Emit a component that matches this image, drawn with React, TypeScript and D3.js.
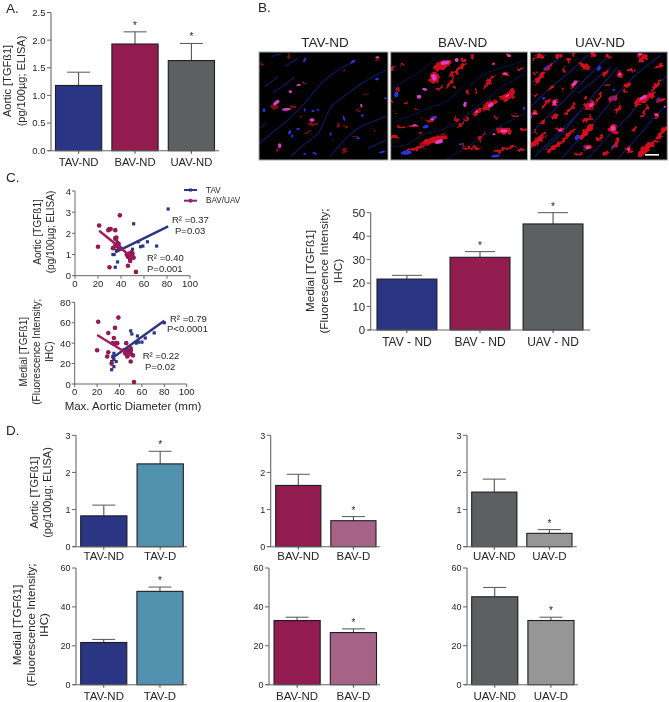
import React from "react";
import * as d3 from "d3";

const FONT = "'Liberation Sans', Arial, sans-serif";
const NAVY = "#2b3583", WINE = "#921a50", GREY = "#5d6060", TEAL = "#5292ae", LWINE = "#a66386", LGREY = "#969696";
const LEGEND_WINE = "#9a1f78", FIT_WINE = "#a01a5e";

// Panel A
const aCats = ["TAV-ND", "BAV-ND", "UAV-ND"];
const aVals = [1.18, 1.93, 1.63];
const aErr = [1.42, 2.15, 1.94];
const aTicks = [0, 0.5, 1, 1.5, 2, 2.5];
// Panel B (right bars)
const mCats = ["TAV - ND", "BAV - ND", "UAV - ND"];
const mVals = [21.7, 31, 45.2];
const mErr = [23.3, 33.4, 50];
const mTicks = [0, 10, 20, 30, 40, 50];
// Panel D
const dTavCats = ["TAV-ND", "TAV-D"];
const dBavCats = ["BAV-ND", "BAV-D"];
const dUavCats = ["UAV-ND", "UAV-D"];
const dAorticTicks = [0, 1, 2, 3];
const dMedialTicks = [0, 20, 40, 60];
const tavAortic = [0.83, 2.23], tavAorticErr = [1.12, 2.57];
const bavAortic = [1.65, 0.7], bavAorticErr = [1.95, 0.81];
const uavAortic = [1.47, 0.36], uavAorticErr = [1.82, 0.46];
const tavMedial = [21.7, 48], tavMedialErr = [23.3, 50.2];
const bavMedial = [33, 26.8], bavMedialErr = [34.7, 28.7];
const uavMedial = [45.2, 33], uavMedialErr = [50, 34.7];

// Panel C scatter data
const c1Tav = [[81,3.15],[51,2.45],[36,1.7],[35,1.8],[37,1.5],[35,0.4],[37,0.65],[33,1],[34,1],[50,1.25],[55,1.6],[57,1.37],[59,1.4],[63,1.6],[71,1.4],[48,1],[40,1.3],[36,1.2]];
const c1Bav = [[20,1.37],[21,2.37],[29,2.15],[30,2.2],[31,2.2],[35,2.15],[39,2.85],[30,0.4],[46,0.47],[53,0.18],[33,1.3],[35,1.75],[36,1.8],[37,1.55],[38,1.5],[35,1.4],[39,1.3],[45,1],[46,0.9],[47,0.95],[48,0.7],[49,1.1],[50,0.9],[50,1.05],[51,0.85],[47,1.05],[48,0.8],[38,1.35]];
const c1TavFit = [[35,1.1],[81,2.33]];
const c1BavFit = [[21,2.12],[50,0.85]];
const c2Tav = [[80,60],[50,52],[51,49],[56,47],[60,41],[63,45],[71,50],[57,41],[55,40],[35,30],[34,27],[33,14],[35,17],[37,22],[35,24],[33,22]];
const c2Bav = [[21,61],[39,65],[36,55],[30,50],[35,45],[37,40],[34,40],[20,33],[30,31],[29,27],[33,20],[46,40],[50,22],[53,2],[47,27],[45,30],[47,33],[48,30],[50,33],[50,35],[52,28],[44,33],[47,28],[50,30],[38,40]];
const c2TavFit = [[33,25],[80,62]];
const c2BavFit = [[20,48],[50,28]];
const cXTicks = [0, 20, 40, 60, 80, 100];
const c1YTicks = [0, 1, 2, 3, 4];
const c2YTicks = [0, 20, 40, 60, 80];

// Micrographs: blobs [x, y, rx, ry, rotation] and fibres
type B = number[];
const tavFibres = [[[5,280],[40,250],[90,210],[140,160],[190,100],[240,60],[290,35]],[[100,320],[130,290],[180,250],[220,170],[270,130],[320,95],[385,60]],[[45,128],[80,105],[110,80]],[[215,320],[260,270],[300,235],[385,200]],[[20,110],[60,80]],[[80,50],[120,25]],[[5,235],[25,220]],[[330,295],[385,270]],[[40,20],[70,10]]];
const tavRed: B[] = [[92,20,5,9,0],[258,58,5,4,0],[140,100,6,3,0],[105,170,10,5,-35],[50,170,14,6,0],[10,40,4,6,0],[165,222,18,4,0],[240,225,6,5,0],[265,232,5,4,0],[300,180,6,3,0],[325,130,8,3,0],[360,30,10,5,0],[130,200,5,3,0],[225,270,3,5,0],[258,300,6,6,0],[60,300,6,5,0],[150,245,12,3,-20],[350,240,6,2,0],[290,260,10,3,0]];
const tavMag: B[] = [[55,158,11,5,-35],[85,178,13,4,-5],[122,105,7,3,-5],[97,125,5,4,0],[162,210,8,5,0],[65,287,5,7,0],[310,167,3,6,-20],[358,22,6,3,0]];
const tavBlue: B[] = [[140,30,3,8,30],[18,181,4,6,0],[285,35,8,4,-30],[357,87,6,4,0],[382,145,4,3,0],[140,180,3,5,0],[165,183,5,3,0],[180,180,3,4,0],[95,247,4,7,20],[103,258,3,5,0],[258,205,3,8,-20],[313,197,4,4,0],[218,252,3,5,0],[140,312,4,3,0],[170,310,7,3,20],[372,306,10,3,-15],[300,265,6,3,0],[120,237,6,3,-10]];
const bavFibres = [[[5,290],[50,285],[100,255],[180,230],[240,190],[290,150],[340,110],[410,70]],[[170,330],[220,300],[280,260],[340,225],[410,190]],[[10,115],[50,90],[100,60],[140,20]],[[240,110],[290,70],[350,50],[410,30]],[[20,215],[70,195],[130,170],[180,150],[220,110]]];
const bavRed: B[] = [[160,45,30,12,-20],[135,85,14,20,10],[205,60,30,7,-40],[185,95,22,3,-60],[150,115,10,4,0],[195,110,6,4,0],[250,20,5,7,0],[225,30,8,4,0],[360,18,8,6,0],[315,42,6,4,0],[300,95,25,5,-50],[350,72,12,6,0],[395,57,10,4,0],[355,140,22,10,-20],[370,125,8,8,0],[300,165,25,10,-35],[265,185,15,6,-35],[225,215,30,4,-45],[130,208,18,6,-30],[75,227,15,6,0],[45,232,20,3,0],[135,270,45,9,-15],[80,295,35,6,-12],[250,295,28,4,5],[345,243,25,8,0],[405,237,10,5,0],[375,195,12,3,0],[275,265,8,4,-50],[285,250,8,3,-50],[18,260,8,7,10],[12,55,3,10,0],[40,45,5,4,0],[235,125,5,8,0],[50,160,6,3,0],[25,120,8,3,0],[80,180,6,3,0],[100,205,6,3,0],[355,295,30,4,-15],[325,305,12,3,0],[320,200,5,3,0],[200,208,6,6,0],[95,250,6,4,0],[260,125,5,5,0],[15,185,3,3,0],[10,150,3,3,0],[225,285,6,3,0],[395,300,10,3,0]];
const bavMag: B[] = [[168,38,13,6,-12],[203,30,6,6,0],[135,82,7,10,-15],[107,118,8,4,10],[90,140,7,6,0],[228,163,5,8,15],[305,165,9,6,-30],[263,185,4,4,0],[345,243,11,5,0],[348,72,6,4,0],[360,17,6,4,0],[313,42,4,3,0],[150,275,12,6,-15],[77,226,7,3,0],[315,253,5,3,0],[355,137,7,3,-30],[130,208,7,3,0]];
const bavBlue: B[] = [[22,133,6,9,10],[110,230,9,5,-15],[135,203,9,4,-25],[52,308,17,6,-5],[320,318,13,4,-5],[405,175,3,6,0],[215,283,6,3,0]];
const uavFibres = [[[10,100],[50,60],[100,20]],[[10,170],[60,120],[120,70],[180,15]],[[10,250],[70,190],[130,130],[190,70],[240,20]],[[20,320],[90,250],[150,190],[210,120],[270,50]],[[100,325],[160,260],[220,190],[270,130],[340,60],[400,15]],[[180,325],[240,260],[300,200],[360,130],[415,80]],[[270,325],[330,260],[380,200],[415,165]],[[50,300],[110,240],[160,180]],[[150,130],[200,90],[250,50]]];
const uavRed: B[] = [[35,18,15,6,-10],[90,20,12,5,-30],[140,15,5,4,0],[20,68,5,4,0],[35,85,25,6,-50],[62,52,16,5,-40],[122,30,10,5,40],[170,48,18,7,20],[197,15,8,6,0],[240,20,8,6,0],[232,68,14,6,-50],[140,100,16,6,-45],[110,60,6,5,0],[70,115,10,4,-30],[25,135,10,4,-30],[55,160,20,5,-50],[80,158,6,10,10],[105,115,5,4,0],[115,190,6,5,0],[130,175,20,4,-50],[170,145,5,4,0],[185,165,20,12,-35],[215,140,20,4,-50],[178,208,14,5,-35],[255,145,16,7,-30],[275,75,10,8,20],[310,60,9,6,-30],[345,25,18,6,-40],[335,15,8,5,0],[395,48,16,5,-15],[350,145,38,9,-30],[385,105,22,6,-50],[300,105,14,4,-50],[270,180,16,3,-60],[350,185,22,4,-55],[400,150,14,5,-30],[385,195,8,7,0],[20,190,10,6,0],[45,218,8,5,0],[80,200,12,4,-40],[95,240,12,5,0],[30,270,32,9,-45],[80,290,25,6,-40],[120,255,30,5,-50],[175,245,30,8,-50],[215,265,12,4,-50],[255,238,13,14,0],[265,280,20,5,-50],[302,298,8,8,0],[180,292,14,7,-10],[150,312,15,4,-10],[230,310,10,5,-40],[355,295,40,8,-40],[400,250,25,5,-50],[320,235,10,4,-50],[385,275,8,4,0],[20,245,6,4,0],[240,105,8,3,0],[195,20,6,4,0],[290,125,5,4,0],[410,235,4,6,0],[15,30,4,4,0]];
const uavMag: B[] = [[140,100,5,10,40],[80,158,5,8,10],[275,73,4,5,0],[335,13,7,3,0],[345,143,12,5,-30],[385,195,6,4,0],[255,235,7,8,0],[97,241,7,3,0],[180,292,7,4,-10],[190,165,8,5,-30],[20,190,6,3,0],[410,170,3,3,0],[302,298,4,4,0]];
const uavBlue: B[] = [[55,52,10,3,-30],[213,55,5,8,30],[47,145,5,4,0],[147,262,6,9,30],[257,120,5,3,0],[255,143,5,6,-20],[390,147,7,3,-30],[10,200,3,6,0],[255,290,6,3,-40],[170,292,4,3,0]];
const panelTitles = ["TAV-ND", "BAV-ND", "UAV-ND"];

const Txt = (p: any) => <text fontFamily={FONT} fill="#262626" {...p}>{p.children}</text>;

function VLabel({ x, y, size, lines }: { x: number[]; y: number; size: number; lines: string[] }) {
  return <>{lines.map((l, i) => (
    <Txt key={i} transform={`translate(${x[i]},${y}) rotate(-90)`} textAnchor="middle" fontSize={size}>{l}</Txt>
  ))}</>;
}

function BarChart(p: {
  axisX: number; barsX0: number; barsX1: number; axisEnd: number; y0: number; y1: number; max: number;
  ticks: number[]; cats: string[]; vals: number[]; errs: number[]; colors: string[]; stars: boolean[];
  tickSize: number; catSize: number; catY: number; fmt?: (v: number) => string; capW: number;
}) {
  const x = d3.scaleBand<string>().domain(p.cats).range([p.barsX0, p.barsX1]).paddingInner(0.18).paddingOuter(0);
  const y = d3.scaleLinear().domain([0, p.max]).range([p.y0, p.y1]);
  const fmt = p.fmt || ((v: number) => String(v));
  const bw = x.bandwidth();
  return (
    <g>
      {p.cats.map((c, i) => {
        const cx = x(c)! + bw / 2;
        return (
          <g key={c}>
            <line x1={cx} x2={cx} y1={y(p.vals[i])} y2={y(p.errs[i])} stroke="#444" strokeWidth={1} />
            <line x1={cx - p.capW} x2={cx + p.capW} y1={y(p.errs[i])} y2={y(p.errs[i])} stroke="#555" strokeWidth={1} />
            <rect x={x(c)} y={y(p.vals[i])} width={bw} height={p.y0 - y(p.vals[i])} fill={p.colors[i]} stroke="#1c1c24" strokeWidth={1.1} />
            <line x1={cx} x2={cx} y1={p.y0} y2={p.y0 + 3} stroke="#444" />
            <Txt x={cx} y={p.catY} textAnchor="middle" fontSize={p.catSize}>{c}</Txt>
            {p.stars[i] && <Txt x={cx} y={y(p.errs[i]) - 3} textAnchor="middle" fontSize={10}>*</Txt>}
          </g>
        );
      })}
      <line x1={p.axisX} x2={p.axisX} y1={p.y1} y2={p.y0} stroke="#666" strokeWidth={1.1} />
      <line x1={p.axisX - 3} x2={p.axisEnd} y1={p.y0} y2={p.y0} stroke="#666" strokeWidth={1.1} />
      {p.ticks.map(t => (
        <g key={t}>
          <line x1={p.axisX - 4} x2={p.axisX} y1={y(t)} y2={y(t)} stroke="#666" />
          <Txt x={p.axisX - 5.5} y={y(t) + p.tickSize * 0.36} textAnchor="end" fontSize={p.tickSize}>{fmt(t)}</Txt>
        </g>
      ))}
    </g>
  );
}

function Scatter(p: {
  x0: number; x1: number; y0: number; y1: number; yMax: number; yTicks: number[];
  tav: number[][]; bav: number[][]; tavFit: number[][]; bavFit: number[][];
}) {
  const x = d3.scaleLinear().domain([0, 100]).range([p.x0, p.x1]);
  const y = d3.scaleLinear().domain([0, p.yMax]).range([p.y0, p.y1]);
  const ln = d3.line<number[]>().x(d => x(d[0])).y(d => y(d[1]));
  return (
    <g>
      <line x1={p.x0} x2={p.x0} y1={p.y1} y2={p.y0} stroke="#666" />
      <line x1={p.x0} x2={p.x1} y1={p.y0} y2={p.y0} stroke="#666" />
      {p.yTicks.map(t => (
        <g key={t}>
          <line x1={p.x0 - 3} x2={p.x0} y1={y(t)} y2={y(t)} stroke="#666" />
          <Txt x={p.x0 - 4} y={y(t) + 3.5} textAnchor="end" fontSize={9.5}>{t}</Txt>
        </g>
      ))}
      {cXTicks.map(t => (
        <g key={t}>
          <line x1={x(t)} x2={x(t)} y1={p.y0} y2={p.y0 + 3} stroke="#666" />
          <Txt x={x(t)} y={p.y0 + 11} textAnchor="middle" fontSize={9.5}>{t}</Txt>
        </g>
      ))}
      {p.tav.map((d, i) => <rect key={i} x={x(d[0]) - 1.6} y={y(d[1]) - 1.6} width={3.2} height={3.2} fill={NAVY} />)}
      {p.bav.map((d, i) => <circle key={i} cx={x(d[0])} cy={y(d[1])} r={2.3} fill={WINE} />)}
      <path d={ln(p.tavFit)!} stroke={NAVY} strokeWidth={2.4} fill="none" />
      <path d={ln(p.bavFit)!} stroke={FIT_WINE} strokeWidth={2.4} fill="none" />
    </g>
  );
}

function Micro(p: { id: string; x0: number; x1: number; cropX: number; fibres: number[][][]; red: B[]; mag: B[]; blue: B[]; fibreOp: number; redOp: number }) {
  const y0 = 52, y1 = 160, cropY = 50;
  const sx = d3.scaleLinear().domain([0, 3]).range([p.cropX, p.cropX + 1]);
  const sy = d3.scaleLinear().domain([0, 3]).range([cropY, cropY + 1]);
  const ln = d3.line<number[]>().x(d => sx(d[0])).y(d => sy(d[1])).curve(d3.curveCatmullRom);
  const blob = (b: B, i: number, fill: string) => (
    <ellipse key={i} cx={0} cy={0} rx={b[2] / 3} ry={b[3] / 3} fill={fill}
      transform={`translate(${sx(b[0])},${sy(b[1])}) rotate(${b[4]})`} />
  );
  return (
    <g>
      <clipPath id={p.id}><rect x={p.x0} y={y0} width={p.x1 - p.x0} height={y1 - y0} /></clipPath>
      <rect x={p.x0} y={y0} width={p.x1 - p.x0} height={y1 - y0} fill="#000" />
      <g clipPath={`url(#${p.id})`}>
        <g filter="url(#soft)" opacity={p.fibreOp}>
          {p.fibres.map((f, i) => <path key={i} d={ln(f)!} fill="none" stroke="#14207a" strokeWidth={1.3} />)}
        </g>
        <g filter="url(#rough)" opacity={p.redOp}>
          {p.red.map((b, i) => blob(b, i, "#d8101a"))}
        </g>
        <g filter="url(#soft)">
          {p.blue.map((b, i) => blob(b, i, "#2a32e6"))}
          {p.mag.map((b, i) => blob(b, i, "#dd40c8"))}
        </g>
      </g>
      <rect x={p.x0} y={y0} width={p.x1 - p.x0} height={y1 - y0} fill="none" stroke="#a8a8a8" strokeWidth={1} />
    </g>
  );
}

const aorticLines = ["Aortic [TGFß1]", "(pg/100µg; ELISA)"];
const medialLines = ["Medial [TGFß1]", "(Fluorescence Intensity;", "IHC)"];

export default function App() {
  return (
    <svg width={669} height={702} viewBox="0 0 669 702" style={{ position: "absolute", left: 0, top: 0, background: "#fff" }}>
      <defs>
        <filter id="soft" x="-5%" y="-5%" width="110%" height="110%"><feGaussianBlur stdDeviation="0.7" /></filter>
        <filter id="rough" x="-5%" y="-5%" width="110%" height="110%">
          <feTurbulence type="fractalNoise" baseFrequency="0.22" numOctaves="2" seed="4" result="n" />
          <feDisplacementMap in="SourceGraphic" in2="n" scale="7" xChannelSelector="R" yChannelSelector="G" />
          <feGaussianBlur stdDeviation="0.7" />
        </filter>
        <filter id="page"><feGaussianBlur stdDeviation="0.25" /></filter>
      </defs>
      <g filter="url(#page)">
      <Txt x={6} y={13} fontSize={13.5}>A.</Txt>
      <Txt x={258} y={12} fontSize={13.5}>B.</Txt>
      <Txt x={6} y={182} fontSize={13.5}>C.</Txt>
      <Txt x={6} y={435} fontSize={13.5}>D.</Txt>

      <VLabel x={[11, 25]} y={81} size={11} lines={aorticLines} />
      <BarChart axisX={51} barsX0={55.5} barsX1={214.5} axisEnd={219} y0={150.7} y1={12.5} max={2.5} ticks={aTicks} cats={aCats} vals={aVals} errs={aErr}
        colors={[NAVY, WINE, GREY]} stars={[false, true, true]} tickSize={9.5} catSize={11.3} catY={166} fmt={v => v.toFixed(1)} capW={11.5} />

      {panelTitles.map((t, i) => <Txt key={t} x={[325, 462.7, 600][i]} y={47} textAnchor="middle" fontSize={13.5}>{t}</Txt>)}
      <Micro id="m1" x0={259} x1={388} cropX={258} fibres={tavFibres} red={tavRed} mag={tavMag} blue={tavBlue} fibreOp={0.7} redOp={0.6} />
      <Micro id="m2" x0={390.7} x1={527.5} cropX={389} fibres={bavFibres} red={bavRed} mag={bavMag} blue={bavBlue} fibreOp={0.45} redOp={0.95} />
      <Micro id="m3" x0={530.3} x1={667.3} cropX={528} fibres={uavFibres} red={uavRed} mag={uavMag} blue={uavBlue} fibreOp={0.75} redOp={1} />
      <rect x={645} y={154} width={14} height={1.6} fill="#fff" />

      <VLabel x={[314, 327.5, 342]} y={271} size={11.8} lines={medialLines} />
      <BarChart axisX={370.7} barsX0={377} barsX1={583} axisEnd={590} y0={330} y1={212.7} max={50} ticks={mTicks} cats={mCats} vals={mVals} errs={mErr}
        colors={[NAVY, WINE, GREY]} stars={[false, true, true]} tickSize={11.5} catSize={12} catY={346} capW={15} />

      <VLabel x={[41, 54]} y={232} size={10} lines={aorticLines} />
      <Scatter x0={75} x1={190} y0={275.7} y1={191} yMax={4} yTicks={c1YTicks} tav={c1Tav} bav={c1Bav} tavFit={c1TavFit} bavFit={c1BavFit} />
      <line x1={184} x2={197} y1={190} y2={190} stroke={NAVY} strokeWidth={2} />
      <rect x={189} y={188.5} width={3} height={3} fill={NAVY} />
      <line x1={184} x2={197} y1={200.7} y2={200.7} stroke={LEGEND_WINE} strokeWidth={2} />
      <circle cx={190.5} cy={200.7} r={2} fill={LEGEND_WINE} />
      <Txt x={206} y={192.7} fontSize={8.2}>TAV</Txt>
      <Txt x={206} y={203.3} fontSize={8.2}>BAV/UAV</Txt>
      <Txt x={172} y={223} fontSize={9.5}>R² =0.37</Txt>
      <Txt x={175} y={234} fontSize={9.5}>P=0.03</Txt>
      <Txt x={147} y={261} fontSize={9.5}>R² =0.40</Txt>
      <Txt x={147} y={272} fontSize={9.5}>P=0.001</Txt>

      <VLabel x={[26.5, 40, 52.5]} y={351.7} size={10} lines={medialLines} />
      <Scatter x0={74.7} x1={186.7} y0={384} y1={302.3} yMax={80} yTicks={c2YTicks} tav={c2Tav} bav={c2Bav} tavFit={c2TavFit} bavFit={c2BavFit} />
      <Txt x={170} y={321.7} fontSize={9.5}>R² =0.79</Txt>
      <Txt x={167} y={332} fontSize={9.5}>P&lt;0.0001</Txt>
      <Txt x={142.7} y={359} fontSize={9.5}>R² =0.22</Txt>
      <Txt x={145} y={370} fontSize={9.5}>P=0.02</Txt>
      <Txt x={133} y={410} textAnchor="middle" fontSize={11.5}>Max. Aortic Diameter (mm)</Txt>

      <VLabel x={[37.5, 50.5]} y={492.5} size={11} lines={aorticLines} />
      <BarChart axisX={76} barsX0={80.7} barsX1={183.3} axisEnd={187} y0={546.7} y1={435.3} max={3} ticks={dAorticTicks} cats={dTavCats} vals={tavAortic} errs={tavAorticErr}
        colors={[NAVY, TEAL]} stars={[false, true]} tickSize={9} catSize={11.5} catY={559.5} capW={11.5} />
      <BarChart axisX={270.7} barsX0={275.7} barsX1={376} axisEnd={380} y0={546.7} y1={435.3} max={3} ticks={dAorticTicks} cats={dBavCats} vals={bavAortic} errs={bavAorticErr}
        colors={[WINE, LWINE]} stars={[false, true]} tickSize={9} catSize={11.5} catY={559.5} capW={11.5} />
      <BarChart axisX={467} barsX0={471.7} barsX1={572} axisEnd={576.7} y0={546.7} y1={435.3} max={3} ticks={dAorticTicks} cats={dUavCats} vals={uavAortic} errs={uavAorticErr}
        colors={[GREY, LGREY]} stars={[false, true]} tickSize={9} catSize={11.5} catY={559.5} capW={11.5} />

      <VLabel x={[20.7, 34.5, 48]} y={625} size={11.6} lines={medialLines} />
      <BarChart axisX={76} barsX0={80.7} barsX1={183} axisEnd={187} y0={684.7} y1={568} max={60} ticks={dMedialTicks} cats={dTavCats} vals={tavMedial} errs={tavMedialErr}
        colors={[NAVY, TEAL]} stars={[false, true]} tickSize={9} catSize={11.5} catY={699.5} capW={11.5} />
      <BarChart axisX={269} barsX0={274} barsX1={376.5} axisEnd={380} y0={684.7} y1={568} max={60} ticks={dMedialTicks} cats={dBavCats} vals={bavMedial} errs={bavMedialErr}
        colors={[WINE, LWINE]} stars={[false, true]} tickSize={9} catSize={11.5} catY={699.5} capW={11.5} />
      <BarChart axisX={467} barsX0={471.7} barsX1={574} axisEnd={578} y0={684.7} y1={568} max={60} ticks={dMedialTicks} cats={dUavCats} vals={uavMedial} errs={uavMedialErr}
        colors={[GREY, LGREY]} stars={[false, true]} tickSize={9} catSize={11.5} catY={699.5} capW={11.5} />
      </g>
    </svg>
  );
}
